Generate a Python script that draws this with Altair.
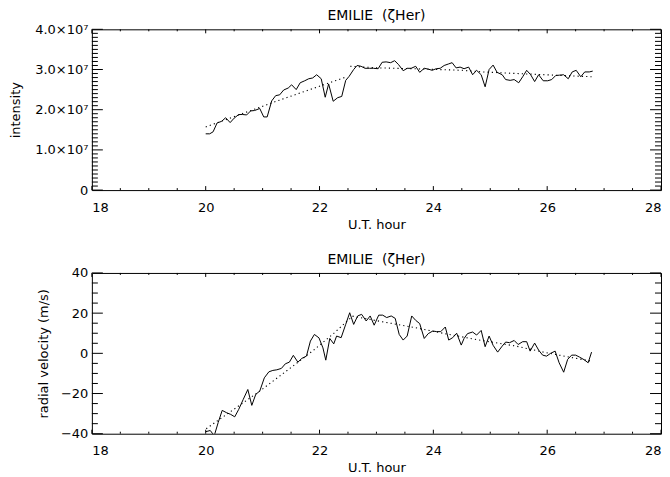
import altair as alt
import pandas as pd

# ---------------- data ----------------
hour_top = [20.00, 20.07, 20.13, 20.20, 20.28, 20.35, 20.43, 20.50, 20.58, 20.65,
            20.72, 20.79, 20.86, 20.95, 21.02, 21.08, 21.16, 21.23, 21.30, 21.37,
            21.45, 21.51, 21.59, 21.66, 21.74, 21.81, 21.88, 21.95, 22.03, 22.10,
            22.16, 22.24, 22.32, 22.39, 22.46, 22.52, 22.60, 22.66, 22.73, 22.80,
            22.88, 22.95, 23.03, 23.10, 23.17, 23.25, 23.32, 23.39, 23.47, 23.54,
            23.61, 23.69, 23.76, 23.84, 23.91, 23.98, 24.05, 24.12, 24.19, 24.27,
            24.33, 24.40, 24.47, 24.54, 24.62, 24.69, 24.76, 24.84, 24.91, 24.98,
            25.05, 25.12, 25.21, 25.27, 25.35, 25.42, 25.50, 25.57, 25.64, 25.71,
            25.78, 25.85, 25.93, 26.01, 26.08, 26.15, 26.22, 26.29, 26.37, 26.44,
            26.51, 26.59, 26.66, 26.74, 26.80]
# intensity in units of 1e7
intensity = [1.40, 1.40, 1.45, 1.67, 1.71, 1.80, 1.68, 1.79, 1.88, 1.88,
             1.87, 1.97, 1.98, 2.03, 1.82, 1.82, 2.22, 2.35, 2.37, 2.49,
             2.54, 2.62, 2.50, 2.67, 2.72, 2.77, 2.79, 2.87, 2.77, 2.31,
             2.64, 2.21, 2.30, 2.33, 2.73, 2.83, 3.00, 3.10, 3.08, 3.03,
             3.03, 3.03, 3.02, 3.18, 3.19, 3.17, 3.22, 3.12, 2.97, 3.03,
             3.03, 3.08, 2.93, 3.03, 3.01, 2.98, 3.02, 3.03, 3.10, 3.14,
             3.17, 3.04, 3.06, 3.02, 3.06, 2.87, 2.98, 2.87, 2.57, 3.00,
             3.11, 2.93, 2.87, 2.75, 2.73, 2.75, 2.67, 2.82, 2.98, 2.87,
             2.70, 2.87, 2.72, 2.72, 2.75, 2.85, 2.86, 2.87, 2.77, 2.94,
             2.98, 2.82, 2.94, 2.94, 2.96]

fit_int_h1 = [20.00, 21.24, 22.44]
fit_int_v1 = [1.57, 2.21, 2.80]
fit_int_h2 = [22.54, 23.05, 23.64, 24.51, 24.87, 25.63, 26.78]
fit_int_v2 = [3.08, 3.04, 3.02, 2.98, 2.94, 2.89, 2.82]

hour_rv = [20.00, 20.08, 20.15, 20.22, 20.29, 20.37, 20.44, 20.51, 20.58, 20.66,
           20.74, 20.81, 20.88, 20.95, 21.03, 21.11, 21.18, 21.25, 21.33, 21.40,
           21.47, 21.54, 21.62, 21.69, 21.77, 21.84, 21.91, 21.99, 22.06, 22.11,
           22.18, 22.25, 22.30, 22.38, 22.46, 22.53, 22.60, 22.67, 22.74, 22.82,
           22.89, 22.96, 23.04, 23.11, 23.18, 23.26, 23.33, 23.40, 23.47, 23.54,
           23.62, 23.69, 23.76, 23.84, 23.91, 23.99, 24.06, 24.13, 24.21, 24.27,
           24.34, 24.41, 24.49, 24.54, 24.60, 24.69, 24.76, 24.84, 24.91, 24.98,
           25.05, 25.13, 25.21, 25.27, 25.34, 25.42, 25.49, 25.57, 25.64, 25.70,
           25.78, 25.85, 25.92, 25.99, 26.06, 26.14, 26.21, 26.29, 26.36, 26.43,
           26.50, 26.57, 26.65, 26.72, 26.78]
rv = [-39.0, -38.4, -41.0, -34.4, -28.4, -29.6, -30.4, -31.6, -27.9, -22.9,
      -18.0, -25.9, -20.4, -18.8, -12.2, -9.2, -8.5, -8.2, -7.5, -5.2,
      -4.4, -1.0, -4.4, -2.5, -1.4, 6.1, 9.4, 7.7, 2.7, -3.4,
      7.4, 4.7, 8.6, 7.8, 14.4, 20.2, 14.4, 18.6, 19.4, 16.1,
      18.6, 14.0, 19.0, 19.0, 17.8, 18.6, 17.4, 9.4, 6.6, 8.6,
      18.6, 16.4, 14.8, 7.4, 9.8, 11.1, 10.8, 10.8, 13.1, 6.6,
      7.8, 10.0, 4.1, 7.4, 9.8, 10.6, 9.1, 11.4, 3.3, 8.6,
      4.0, 0.6, 3.6, 5.6, 5.3, 6.4, 4.4, 5.8, 5.8, 1.1,
      5.1, 1.6, -0.9, -1.4, 0.0, 1.1, -4.7, -9.4, -3.0, -0.9,
      -0.9, -1.9, -3.2, -4.7, 0.6]

fit_rv_h1 = [20.01, 20.95, 21.53, 21.91, 22.26, 22.58]
fit_rv_v1 = [-37.5, -18.8, -6.4, 1.9, 10.2, 18.5]
fit_rv_h2 = [22.58, 23.05, 23.64, 24.22, 24.75, 25.45, 25.92, 26.39, 26.78]
fit_rv_v2 = [18.5, 16.0, 13.0, 9.7, 6.9, 3.6, 0.7, -1.9, -3.9]

x_major = [18, 20, 22, 24, 26, 28]
x_minor = [18.5, 19, 19.5, 20.5, 21, 21.5, 22.5, 23, 23.5, 24.5, 25, 25.5, 26.5, 27, 27.5]
int_major = [0, 1, 2, 3, 4]
int_minor = [i / 10 for i in range(41) if i % 10 != 0]
rv_major = [-40, -20, 0, 20, 40]
rv_minor = [-35, -30, -25, -15, -10, -5, 5, 10, 15, 25, 30, 35]

TITLE = "EMILIE\u00a0\u00a0(ζHer)"
W, H = 570, 161
FONT = "DejaVu Sans"
XTL, XTS = 4, 2      # x tick lengths (major, minor)
YTL, YTS = 11, 6     # y tick lengths


def panel(hours, vals, fits, ydom, ymaj, ymin, ytitle, lexpr, ytpad):
    xs = alt.Scale(domain=[18, 28], nice=False, zero=False)
    ys = alt.Scale(domain=ydom, nice=False, zero=False)
    xaxis = alt.Axis(values=x_major, ticks=False, domain=False, grid=False,
                     labelFontSize=13, labelPadding=11, format="d",
                     title="U.T. hour", titleFontSize=13, titleFontWeight="normal",
                     titlePadding=4)
    yaxis = alt.Axis(values=ymaj, ticks=False, domain=False, grid=False,
                     labelFontSize=13, labelPadding=4, labelExpr=lexpr,
                     title=ytitle, titleFontSize=13, titleFontWeight="normal",
                     titlePadding=ytpad)
    df = pd.DataFrame({"h": hours, "v": vals})
    main = alt.Chart(df).mark_line(color="black", strokeWidth=1, clip=True).encode(
        x=alt.X("h:Q", scale=xs, axis=xaxis),
        y=alt.Y("v:Q", scale=ys, axis=yaxis),
    )
    layers = [main]
    for fh, fv in fits:
        fdf = pd.DataFrame({"h": fh, "v": fv})
        layers.append(alt.Chart(fdf).mark_line(color="black", strokeWidth=1.1,
                                               strokeDash=[1.2, 3.1], clip=True).encode(
            x=alt.X("h:Q", scale=xs, axis=xaxis), y=alt.Y("v:Q", scale=ys, axis=yaxis)))

    def xr(vals_, y0, y1):
        return alt.Chart(pd.DataFrame({"h": vals_})).mark_rule(color="black", strokeWidth=1).encode(
            x=alt.X("h:Q", scale=xs, axis=xaxis), y=alt.value(y0), y2=alt.value(y1))

    def yr(vals_, x0, x1):
        return alt.Chart(pd.DataFrame({"v": vals_})).mark_rule(color="black", strokeWidth=1).encode(
            y=alt.Y("v:Q", scale=ys, axis=yaxis), x=alt.value(x0), x2=alt.value(x1))

    layers += [xr(x_major, H, H - XTL), xr(x_minor, H, H - XTS),
               xr(x_major, 0, XTL), xr(x_minor, 0, XTS),
               yr(ymaj, 0, YTL), yr(ymin, 0, YTS),
               yr(ymaj, W, W - YTL), yr(ymin, W, W - YTS)]
    return alt.layer(*layers).properties(
        width=W, height=H,
        title=alt.TitleParams(TITLE, fontSize=14, fontWeight="normal", font=FONT,
                              offset=0, anchor="middle", color="black"))


top = panel(hour_top, intensity, [(fit_int_h1, fit_int_v1), (fit_int_h2, fit_int_v2)],
            [0, 4], int_major, int_minor, "intensity",
            "datum.value == 0 ? '0' : format(datum.value, '.1f') + '×10⁷'", 12)
bottom = panel(hour_rv, rv, [(fit_rv_h1, fit_rv_v1), (fit_rv_h2, fit_rv_v2)],
               [-40, 40], rv_major, rv_minor, "radial velocity (m/s)",
               "format(datum.value, 'd')", 10)

chart = alt.vconcat(top, bottom, spacing=20).properties(
    padding={"left": 1, "top": 0, "right": 0, "bottom": 0},
    background="white",
).configure_view(stroke="black", strokeWidth=1).configure_axis(
    labelFont=FONT, titleFont=FONT, labelColor="black", titleColor="black"
)

chart.save("out.html", embed_options={"renderer": "svg", "actions": False})
